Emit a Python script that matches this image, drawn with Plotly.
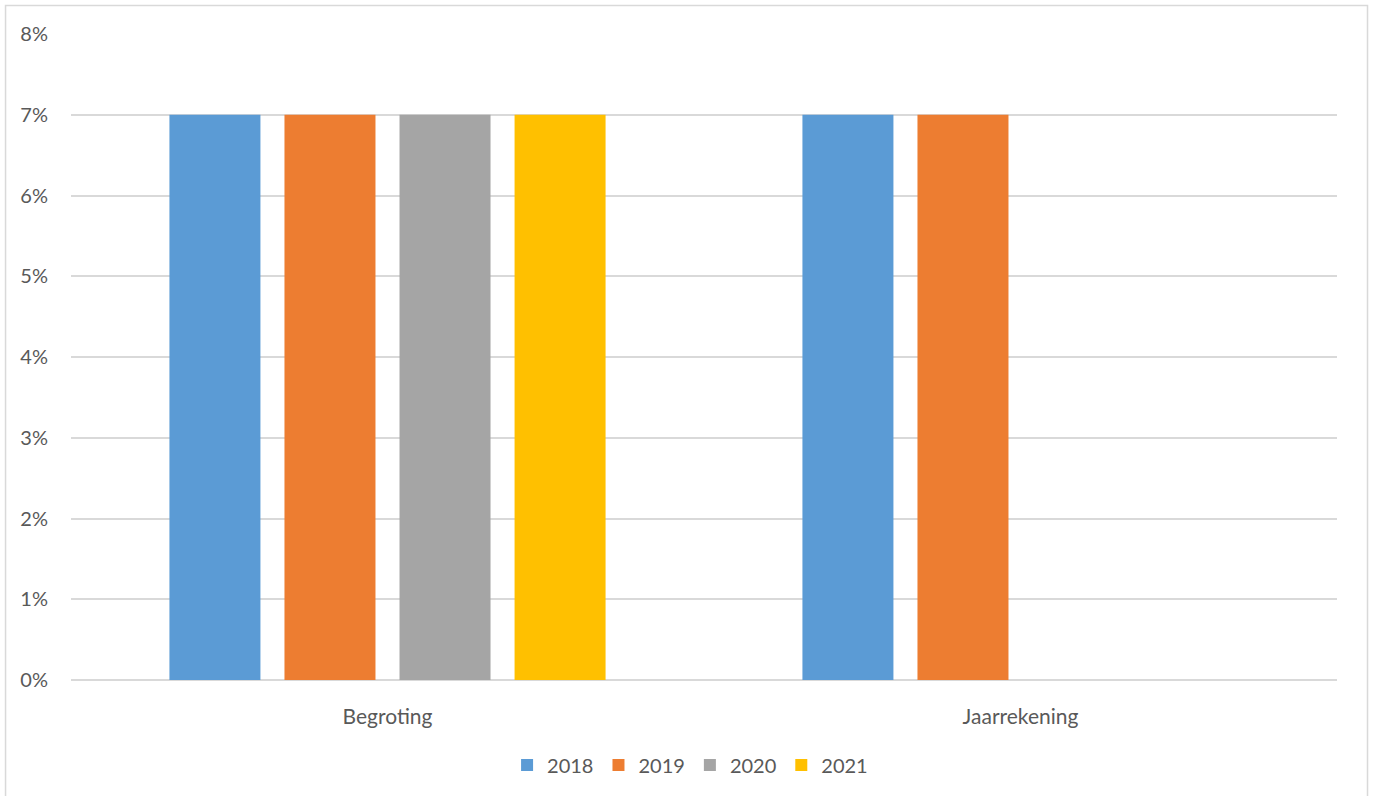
import plotly.graph_objects as go

# Categories and yearly percentages
categories = ["Begroting", "Jaarrekening"]
years = ["2018", "2019", "2020", "2021"]
values_2018 = [0.07, 0.07]
values_2019 = [0.07, 0.07]
values_2020 = [0.07, None]
values_2021 = [0.07, None]
series = [values_2018, values_2019, values_2020, values_2021]
colors = ["#5B9BD5", "#ED7D31", "#A5A5A5", "#FFC000"]

y_ticks = [0, 0.01, 0.02, 0.03, 0.04, 0.05, 0.06, 0.07, 0.08]

font_family = "Lato, 'Open Sans', Arial, sans-serif"
text_color = "#595959"

fig = go.Figure()
for year, vals, col in zip(years, series, colors):
    fig.add_trace(go.Bar(name=year, x=categories, y=vals, marker_color=col,
                         marker_line_width=0))

fig.update_layout(
    width=1375, height=796,
    margin=dict(l=71, r=38, t=34, b=115),
    paper_bgcolor="white", plot_bgcolor="white",
    barmode="group", bargap=0.273, bargroupgap=0.209,
    font=dict(family=font_family, size=20, color=text_color),
    showlegend=True,
    legend=dict(orientation="h", x=0.489, xanchor="center", y=-0.13, yanchor="middle",
                font=dict(size=20, color=text_color), itemwidth=30, traceorder="normal"),
    xaxis=dict(showgrid=False, showline=False, ticks="", ticklabelstandoff=22,
               tickfont=dict(size=21, color=text_color)),
    yaxis=dict(range=[0, 0.08], tickvals=y_ticks, tickformat=".0%",
               showgrid=True, gridcolor="#D9D9D9", gridwidth=1.5,
               zeroline=True, zerolinecolor="#D9D9D9", zerolinewidth=1.5,
               showline=False, ticks="", ticklabelstandoff=22,
               tickfont=dict(size=20, color=text_color)),
    shapes=[dict(type="rect", xref="paper", yref="paper",
                 x0=-0.0517, x1=1.0241, y0=-0.3, y1=1.044,
                 line=dict(color="#D9D9D9", width=1.5), layer="below")],
)

fig.write_html("out.html")
